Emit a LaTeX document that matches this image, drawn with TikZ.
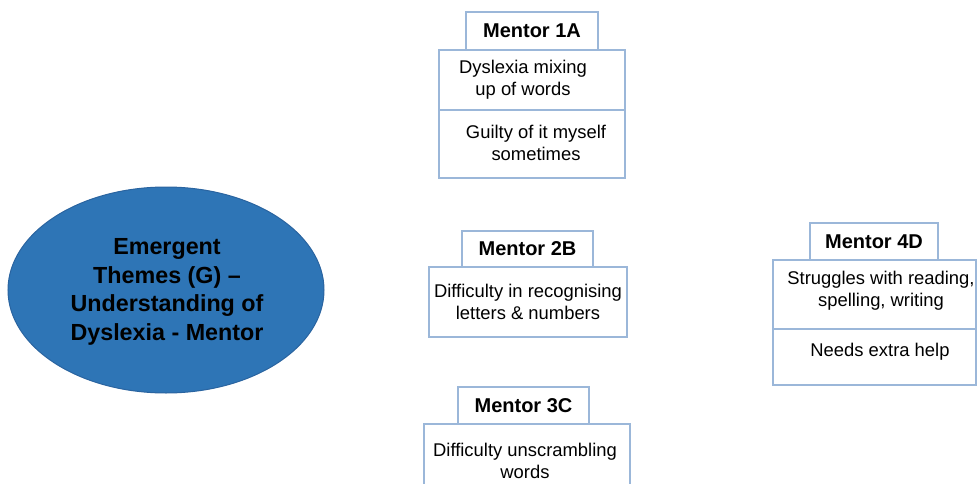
\documentclass[tikz,border=0pt]{standalone}
\usepackage{fontspec}
\setmainfont{Liberation Sans}
\usetikzlibrary{shapes.geometric}
\definecolor{boxline}{HTML}{9BB7D9}
\definecolor{ellfill}{HTML}{2E75B6}
\definecolor{elldraw}{HTML}{2A64A0}
\tikzset{
  hbox/.style={draw=boxline, line width=1.2pt, rectangle, inner sep=0pt, font=\bfseries\fontsize{20}{22}\selectfont},
  bbox/.style={draw=boxline, line width=1.2pt, rectangle, inner sep=0pt},
  btext/.style={align=center, inner sep=0pt, font=\fontsize{18.4}{22}\selectfont},
  theme/.style={ellipse, fill=ellfill, draw=elldraw, line width=1pt, inner sep=0pt, align=center, font=\bfseries\fontsize{23.3}{28.5}\selectfont}
}
\begin{document}
\begin{tikzpicture}[x=1pt,y=-1pt]
\useasboundingbox (0,0) rectangle (977,484);
% central ellipse
\node[theme, minimum width=316pt, minimum height=206pt] (theme) at (166,290) {};
\node[align=center, inner sep=0pt, font=\bfseries\fontsize{23.3}{28.5}\selectfont] (themetext) at (167,292) {Emergent\\Themes (G) --\\Understanding of\\Dyslexia - Mentor};
% Mentor 1A
\node[hbox, minimum width=132pt, minimum height=38pt] (h1) at (532,31) {Mentor 1A};
\node[bbox, minimum width=186pt, minimum height=60pt] (b1a) at (532,80) {};
\node[bbox, minimum width=186pt, minimum height=68pt] (b1b) at (532,144) {};
\node[btext] (t1a) at (523,80) {Dyslexia mixing\\up of words};
\node[btext] (t1b) at (536,143) {Guilty of it myself\\sometimes};
% Mentor 2B
\node[hbox, minimum width=131pt, minimum height=36pt] (h2) at (527.5,249) {Mentor 2B};
\node[bbox, minimum width=198pt, minimum height=70pt] (b2) at (528,302) {};
\node[btext] (t2) at (528,302) {Difficulty in recognising\\letters \& numbers};
% Mentor 3C
\node[hbox, minimum width=131pt, minimum height=37pt] (h3) at (523.5,405.5) {Mentor 3C};
\coordinate (c3a) at (424,490);
\coordinate (c3b) at (424,424);
\coordinate (c3c) at (630,424);
\coordinate (c3d) at (630,490);
\draw[draw=boxline, line width=1.2pt] (c3a) -- (c3b) -- (c3c) -- (c3d);
\node[btext] (t3) at (525,461) {Difficulty unscrambling\\words};
% Mentor 4D
\node[hbox, minimum width=128pt, minimum height=37pt] (h4) at (874,241.5) {Mentor 4D};
\node[bbox, minimum width=203pt, minimum height=69pt] (b4a) at (874.5,294.5) {};
\node[bbox, minimum width=203pt, minimum height=56pt] (b4b) at (874.5,357) {};
\node[btext] (t4a) at (881,291) {Struggles with reading,\\spelling, writing};
\node[btext] (t4b) at (880,352) {Needs extra help};
\end{tikzpicture}
\end{document}
